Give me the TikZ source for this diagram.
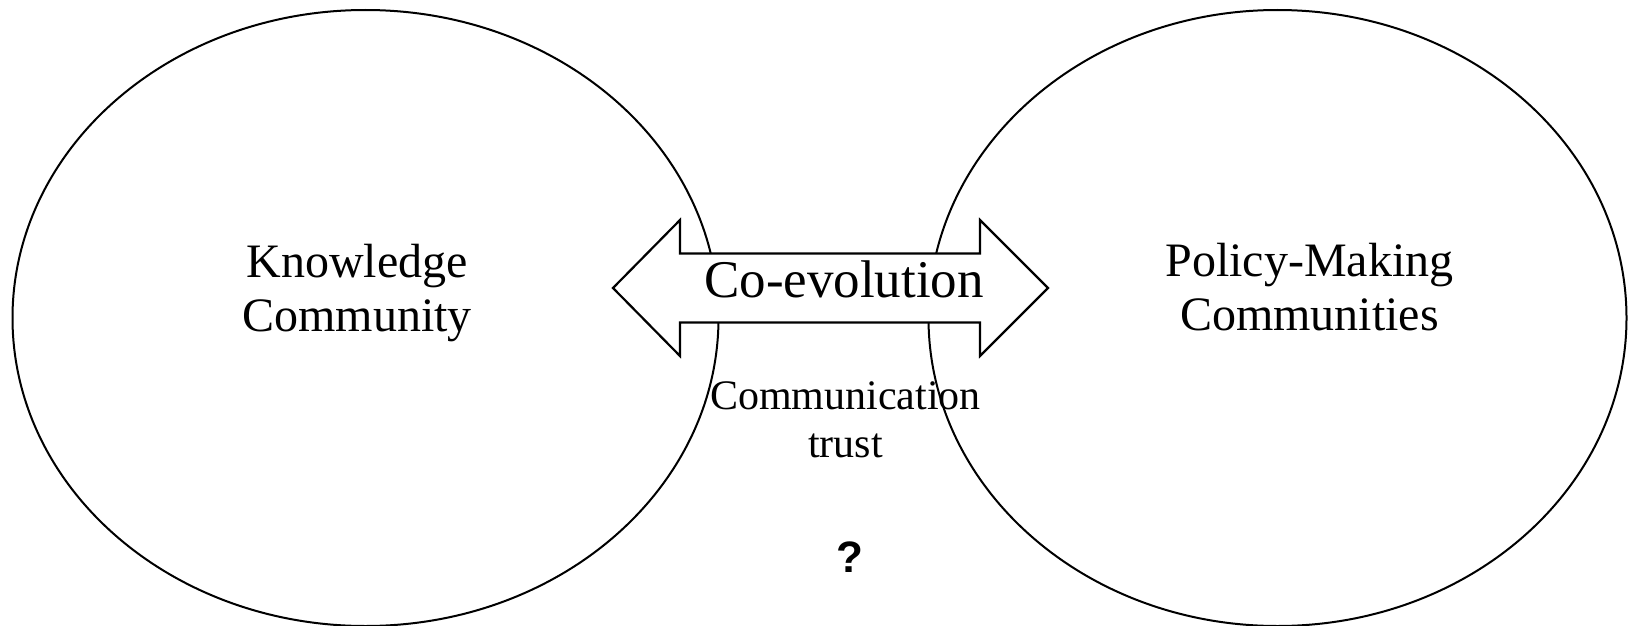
\documentclass[tikz,border=0pt]{standalone}
\usepackage{fontspec}
\setmainfont{Liberation Serif}
\newfontfamily\qfont{Liberation Sans}
\begin{document}
\begin{tikzpicture}[x=1pt,y=-1pt,
  community/.style={draw=black,line width=2pt},
  bigtext/.style={align=center,inner sep=0pt,font=\fontsize{48}{54}\selectfont},
  arrowbody/.style={draw=black,fill=white,line width=2.2pt,line join=miter},
  midtext/.style={align=center,inner sep=0pt,font=\fontsize{42}{48}\selectfont}]
\useasboundingbox (0,0) rectangle (1628,626);
\draw[community] (365.5,318) ellipse [x radius=353, y radius=308];
\draw[community] (1277.5,318) ellipse [x radius=349, y radius=308];
\node[bigtext] (kc) at (357,293) {Knowledge\\Community};
\node[bigtext] (pm) at (1309.5,287.5) {Policy-Making\\Communities};
\draw[arrowbody] (613,288) -- (680,220) -- (680,253.5) -- (980,253.5) -- (980,220) -- (1048,288)
  -- (980,356) -- (980,322.5) -- (680,322.5) -- (680,356) -- cycle;
\node[inner sep=0pt,anchor=base,font=\fontsize{53}{60}\selectfont] (co) at (844,297) {Co-evolution};
\node[midtext] (ct) at (845.5,419.5) {Communication\\trust};
\node[inner sep=0pt,anchor=base,font=\qfont\bfseries\fontsize{44}{50}\selectfont] (q) at (850,572) {?};
\end{tikzpicture}
\end{document}
